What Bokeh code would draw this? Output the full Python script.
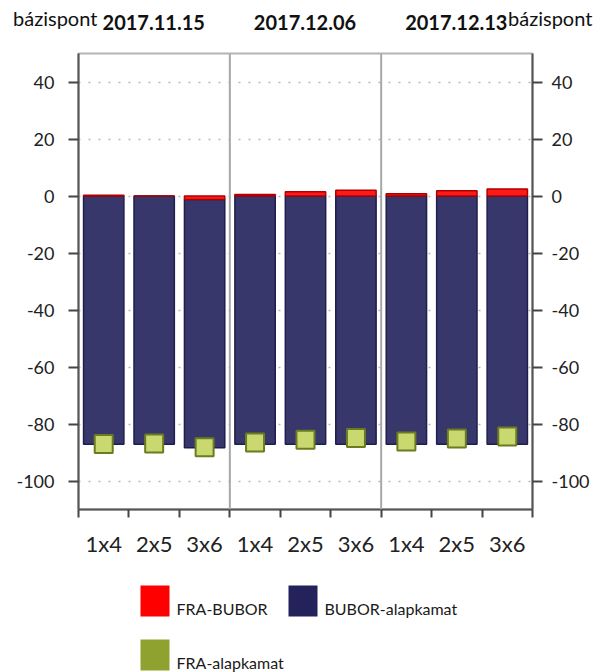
from bokeh.plotting import figure
from bokeh.models import Range1d, FixedTicker, LinearAxis, Span, Div
from bokeh.layouts import column
from bokeh.core.properties import value
from bokeh.embed import file_html
from bokeh.resources import INLINE

# ---- data ----
dates = ["2017.11.15", "2017.12.06", "2017.12.13"]
tenors = ["1x4", "2x5", "3x6"]
fra_bubor = [0.3, 0.0, -1.2, 0.5, 1.5, 2.0, 0.8, 1.8, 2.5]
bubor_alapkamat = [-87.1, -87.1, -87.1, -87.1, -87.1, -87.1, -87.1, -87.1, -87.1]
fra_alapkamat = [-87.0, -86.8, -88.2, -86.5, -85.5, -84.9, -86.1, -85.1, -84.4]
y_ticks = [-100, -80, -60, -40, -20, 0, 20, 40]
unit_label = "bázispont"
legend_names = ["FRA-BUBOR", "BUBOR-alapkamat", "FRA-alapkamat"]

FONT = "Lato"
W = 605
BL, BR = 78, 73          # frame borders (left / right)
HEAD_H = 40
MAIN_H = 525
LEG_H = 107

labels = [t for d in dates for t in tenors]
xs = list(range(len(labels)))

# stacking (positives above zero, negatives below)
red_bottom = [0.0] * len(xs)
red_top = list(fra_bubor)
navy_top = [min(v, 0.0) for v in fra_bubor]
navy_bottom = [t + b for t, b in zip(navy_top, bubor_alapkamat)]

# ---- header (axis-unit titles and date group labels) ----
frame_w = W - BL - BR
step = frame_w / len(xs)
spans = []
spans.append(f'<span style="position:absolute;left:13px;top:8px;font-size:20px;'
             f'line-height:20px;white-space:nowrap;">{unit_label}</span>')
for k, d in enumerate(dates):
    cx = BL + (k * len(tenors) + len(tenors) / 2) * step
    spans.append(f'<span style="position:absolute;left:{cx:.1f}px;top:11.5px;'
                 f'transform:translateX(-50%);font-size:20px;line-height:20px;'
                 f'font-weight:bold;white-space:nowrap;">{d}</span>')
spans.append(f'<span style="position:absolute;left:508px;top:8px;font-size:20px;'
             f'line-height:20px;white-space:nowrap;">{unit_label}</span>')
head = Div(text=(f'<div style="position:relative;width:{W}px;height:{HEAD_H}px;'
                 f'font-family:Lato;color:#111111;">' + "".join(spans) + '</div>'),
           width=W, height=HEAD_H, margin=0)

# ---- main chart ----
p = figure(width=W, height=MAIN_H, x_range=Range1d(-0.5, len(xs) - 0.5),
           y_range=Range1d(-110, 50), output_backend="svg", toolbar_location=None,
           min_border_left=BL, min_border_right=BR, min_border_top=13, min_border_bottom=56)
p.background_fill_color = "white"
p.border_fill_color = "white"
p.outline_line_color = "#b4b4b4"
p.outline_line_width = 2

p.xgrid.visible = False
p.ygrid.ticker = FixedTicker(ticks=y_ticks)
p.ygrid.grid_line_color = "#b8b8b8"
p.ygrid.grid_line_dash = "2 8"
p.ygrid.grid_line_width = 1.5

for k in range(1, len(dates)):
    p.add_layout(Span(location=k * len(tenors) - 0.5, dimension="height",
                      line_color="#a8a8a8", line_width=2))

p.vbar(x=xs, width=0.8, top=navy_top, bottom=navy_bottom,
       fill_color="#38376c", line_color="#1f1e4e", line_width=1.5)
p.vbar(x=xs, width=0.8, top=red_top, bottom=red_bottom,
       fill_color="#ff1a1a", line_color="#b00000", line_width=1.5)
p.scatter(x=xs, y=fra_alapkamat, marker="square", size=18,
          fill_color="#c9d970", line_color="#6b7b20", line_width=2)

def style_y(ax, standoff):
    ax.ticker = FixedTicker(ticks=y_ticks)
    ax.major_label_overrides = {t: str(t) for t in y_ticks}
    ax.axis_line_color = "#555555"
    ax.axis_line_width = 2
    ax.major_tick_line_color = "#444444"
    ax.major_tick_line_width = 2
    ax.major_tick_out = 10
    ax.major_tick_in = 0
    ax.minor_tick_line_color = None
    ax.major_label_text_font = FONT
    ax.major_label_text_font_size = "18px"
    ax.major_label_text_color = "#222222"
    ax.major_label_standoff = standoff

style_y(p.yaxis[0], 14)
ra = LinearAxis()
style_y(ra, 9)
p.add_layout(ra, "right")

xa = p.xaxis[0]
xa.ticker = FixedTicker(ticks=xs, minor_ticks=[i - 0.5 for i in range(len(xs) + 1)])
xa.major_label_overrides = {i: lab for i, lab in zip(xs, labels)}
xa.axis_line_color = "#555555"
xa.axis_line_width = 2
xa.major_tick_line_color = None
xa.minor_tick_line_color = "#444444"
xa.minor_tick_line_width = 2
xa.minor_tick_out = 8
xa.minor_tick_in = 0
xa.major_label_text_font = FONT
xa.major_label_text_font_size = "22px"
xa.major_label_text_color = "#222222"
xa.major_label_standoff = 12

# ---- legend ----
lg = figure(width=W, height=LEG_H, x_range=Range1d(0, frame_w), y_range=Range1d(LEG_H, 0),
            output_backend="svg", toolbar_location=None,
            min_border_left=BL, min_border_right=BR, min_border_top=0, min_border_bottom=0)
lg.outline_line_color = None
lg.axis.visible = False
lg.grid.visible = False
lg.background_fill_color = "white"
lg.border_fill_color = "white"

sq_left = [140 - BL, 288 - BL, 140 - BL]
sq_top = [20, 20, 74]
sq_colors = ["#ff0000", "#24225a", "#8fa22f"]
lg.quad(left=sq_left, right=[l + 29 for l in sq_left], top=sq_top,
        bottom=[t + 31 for t in sq_top], fill_color=sq_colors, line_color=None)
lg.text(x=[l + 36 for l in sq_left], y=[t + 23 for t in sq_top], text=legend_names,
        text_font=value(FONT), text_font_size="16px", text_baseline="alphabetic",
        text_color="#1a1a1a")

layout = column(head, p, lg, spacing=0)
open("out.html", "w").write(file_html(layout, INLINE))
